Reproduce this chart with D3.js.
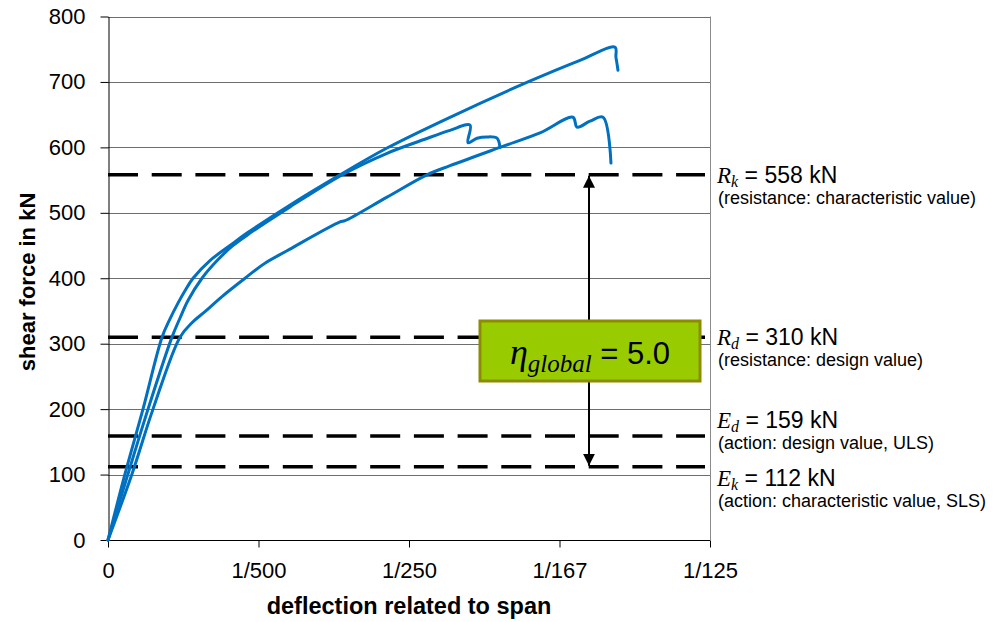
<!DOCTYPE html>
<html><head><meta charset="utf-8">
<script src="https://cdn.jsdelivr.net/npm/d3@7"></script>
<style>body{margin:0;background:#fff}</style>
</head><body>
<svg id="chart" width="996" height="622"></svg>
<script>
// ---- data ----
// deflection expressed in per mille of span (‰); 2‰ = 1/500, 4‰ = 1/250, 6‰ ≈ 1/167, 8‰ = 1/125
const xTickValues = [0, 2, 4, 6, 8];
const xTickLabels = ["0", "1/500", "1/250", "1/167", "1/125"];
const yTickValues = [0, 100, 200, 300, 400, 500, 600, 700, 800];

// test 1 (highest, ~752 kN)
const test1 = [[0,0],[0.226,101],[0.465,200],[0.718,310],[0.824,338],[0.93,362],[1.023,381],[1.13,400],
  [1.355,427],[1.621,450],[1.847,469],[2.379,509],[3.083,558],[3.708,599],[4.545,646],[5.581,700],
  [6.272,733],[6.738,753],[6.75,738],[6.764,728],[6.777,718]];
// test 2 (drop at ~634 kN)
const test2 = [[0,0],[0.266,101],[0.532,200],[0.850,310],[0.96,340],[1.063,366],[1.249,400],[1.45,427],
  [1.65,449],[1.887,469],[2.419,509],[3.110,558],[3.708,591],[4.2,612],[4.545,626],[4.811,634],
  [4.784,607],[4.904,614],[5.037,616],[5.169,614],[5.209,600]];
// test 3 (lowest, ~646 kN)
const test3 = [[0,0],[0.319,101],[0.598,200],[0.957,310],[1.116,332],[1.289,349],[1.515,372],[1.821,400],
  [2.086,423],[2.379,442],[3.083,486],[3.15,488],[3.708,524],[4.239,558],[4.545,572],
  [5.209,600],[5.741,622],[6.179,646],[6.233,631],[6.405,640],[6.578,646],[6.684,576]];

const limitSymbols = ["R", "R", "E", "E"];
const limitSubs = ["k", "d", "d", "k"];
const limitValues = [558, 310, 159, 112];
const limitDescriptions = ["(resistance: characteristic value)", "(resistance: design value)",
  "(action: design value, ULS)", "(action: characteristic value, SLS)"];
const etaGlobal = "5.0";

// ---- layout ----
const svg = d3.select("#chart");
const L = 108, R = 710, T = 16.5, B = 540;
const x = d3.scaleLinear([0, 8], [L, R]);
const y = d3.scaleLinear([0, 800], [B, T]);
const sans = "'Liberation Sans', Arial, sans-serif";
const serif = "'Liberation Serif', 'Times New Roman', serif";

// gridlines
svg.append("g").selectAll("line").data(yTickValues.filter(d => d > 0)).join("line")
  .attr("x1", L).attr("x2", R).attr("y1", d => Math.round(y(d)) + 0.5).attr("y2", d => Math.round(y(d)) + 0.5)
  .attr("stroke", "#6e6e6e").attr("stroke-width", 1);
svg.append("line").attr("x1", R + 0.5).attr("x2", R + 0.5).attr("y1", T).attr("y2", B)
  .attr("stroke", "#8a8a8a").attr("stroke-width", 1);

// axes
const yAxis = svg.append("g").attr("transform", `translate(${L + 0.5},0)`)
  .call(d3.axisLeft(y).tickValues(yTickValues).tickSize(8).tickSizeOuter(0).tickPadding(15));
yAxis.selectAll("text").attr("font-size", 22).attr("font-family", sans).attr("fill", "#000");
const xAxis = svg.append("g").attr("transform", `translate(0,${B + 0.5})`)
  .call(d3.axisBottom(x).tickValues(xTickValues).tickFormat((d, i) => xTickLabels[i]).tickSize(7).tickSizeOuter(0));
xAxis.selectAll("text").attr("font-size", 22).attr("font-family", sans).attr("fill", "#000")
  .attr("y", 37).attr("dy", 0);
xAxis.select(".domain").attr("d", `M${L},0H${R}`);
svg.selectAll(".domain, .tick line").attr("stroke", "#000");

// axis titles
svg.append("text").attr("x", 409).attr("y", 614).attr("text-anchor", "middle")
  .attr("font-family", sans).attr("font-weight", "bold").attr("font-size", 23.5)
  .text("deflection related to span");
svg.append("text").attr("transform", "translate(35,282) rotate(-90)").attr("text-anchor", "middle")
  .attr("font-family", sans).attr("font-weight", "bold").attr("font-size", 22)
  .text("shear force in kN");

// dashed limit lines
svg.append("g").selectAll("line").data(limitValues).join("line")
  .attr("x1", L).attr("x2", 705).attr("y1", d => y(d)).attr("y2", d => y(d))
  .attr("stroke", "#000").attr("stroke-width", 3.5).attr("stroke-dasharray", "30,13.7");

// curves
const line = d3.line().x(d => x(d[0])).y(d => y(d[1])).curve(d3.curveCatmullRom.alpha(0.5));
svg.append("g").selectAll("path").data([test1, test2, test3]).join("path")
  .attr("d", line).attr("fill", "none").attr("stroke", "#0070C0").attr("stroke-width", 3)
  .attr("stroke-linejoin", "round").attr("stroke-linecap", "round");

// arrow between R_k and E_k
const defs = svg.append("defs");
defs.append("marker").attr("id", "ah").attr("viewBox", "0 0 10 10").attr("refX", 10).attr("refY", 5)
  .attr("markerWidth", 6).attr("markerHeight", 6).attr("markerUnits", "strokeWidth")
  .attr("orient", "auto-start-reverse")
  .append("path").attr("d", "M0,0L10,5L0,10Z").attr("fill", "#000");
svg.append("line").attr("x1", 589).attr("x2", 589)
  .attr("y1", y(limitValues[0]) + 1).attr("y2", y(limitValues[3]) - 1)
  .attr("stroke", "#000").attr("stroke-width", 2)
  .attr("marker-start", "url(#ah)").attr("marker-end", "url(#ah)");

// eta box
svg.append("rect").attr("x", 480).attr("y", 321).attr("width", 220).attr("height", 60)
  .attr("fill", "#99CC00").attr("stroke", "#8C8C00").attr("stroke-width", 3);
const et = svg.append("text").attr("x", 590).attr("y", 364).attr("text-anchor", "middle");
et.append("tspan").attr("font-family", serif).attr("font-style", "italic").attr("font-size", 36).text("η");
et.append("tspan").attr("font-family", serif).attr("font-style", "italic").attr("font-size", 25).attr("dy", 8).text("global");
et.append("tspan").attr("font-family", sans).attr("font-size", 31).attr("dy", -8).text(" = " + etaGlobal);

// right-hand labels
const labelBaselines = [183, 345, 428, 486];
limitValues.forEach((v, i) => {
  const t = svg.append("text").attr("x", 717).attr("y", labelBaselines[i]).attr("font-size", 23);
  t.append("tspan").attr("font-family", serif).attr("font-style", "italic").text(limitSymbols[i]);
  t.append("tspan").attr("font-family", serif).attr("font-style", "italic").attr("font-size", 16).attr("dy", 4).text(limitSubs[i]);
  t.append("tspan").attr("font-family", sans).attr("dy", -4).text(" = " + v + " kN");
  svg.append("text").attr("x", 718).attr("y", labelBaselines[i] + 21).attr("font-size", 18)
    .attr("font-family", sans).text(limitDescriptions[i]);
});
</script>
</body></html>
